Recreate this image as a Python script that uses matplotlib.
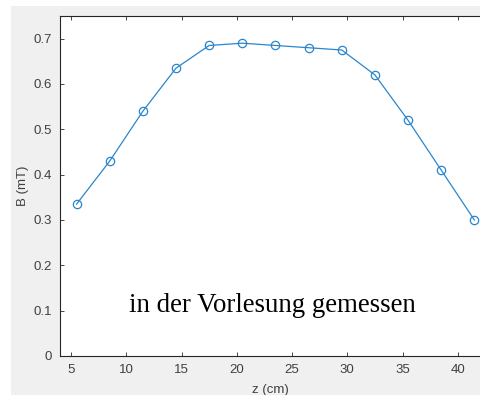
import matplotlib
matplotlib.use("Agg")
import matplotlib.pyplot as plt
from matplotlib.patches import Rectangle

# measured field along the axis
z_cm = [5.5, 8.5, 11.5, 14.5, 17.5, 20.5, 23.5, 26.5, 29.5, 32.5, 35.5, 38.5, 41.5]
b_mT = [0.335, 0.43, 0.54, 0.635, 0.685, 0.69, 0.685, 0.68, 0.675, 0.62, 0.52, 0.41, 0.30]
x_ticks = [5, 10, 15, 20, 25, 30, 35, 40]
y_ticks = [0, 0.1, 0.2, 0.3, 0.4, 0.5, 0.6, 0.7]

W, H = 481, 395
fig = plt.figure(figsize=(W / 100, H / 100), dpi=100, facecolor="white")

# grey matlab figure background
fig.patches.append(Rectangle((11 / W, 0), 1, 1 - 6 / H, transform=fig.transFigure,
                             facecolor="#f0f0f0", edgecolor="none", zorder=-1))

ax = fig.add_axes([60 / W, 1 - 356 / H, 421 / W + 0.01, (356 - 16) / H])
line_col = "#2a86cc"
ax.plot(z_cm, b_mT, color=line_col, lw=0.9, marker="o", ms=6,
        mfc="none", mec=line_col, mew=0.9)

ax.set_xlim(4.0, 42.1 + 0.01 * W / 11.05)
ax.set_ylim(0, 0.75)
ax.set_xticks(x_ticks)
ax.set_yticks(y_ticks)
ax.set_yticklabels(["0", "0.1", "0.2", "0.3", "0.4", "0.5", "0.6", "0.7"])

tick_font = {"family": "Liberation Sans", "size": 9.5, "color": "#404040"}
for lab in ax.get_xticklabels() + ax.get_yticklabels():
    lab.set_fontfamily("Liberation Sans")
    lab.set_fontsize(9.5)
    lab.set_color("#404040")
ax.tick_params(direction="in", length=3, width=0.6, color="#262626",
               top=True, right=True, pad=6)
for s in ax.spines.values():
    s.set_color("#262626")
    s.set_linewidth(0.8)

ax.set_xlabel("z (cm)", fontdict=tick_font, labelpad=2)
ax.set_ylabel("B (mT)", fontdict=tick_font, labelpad=3)
ax.xaxis.set_label_coords(0.5 - 0.005, -0.082)

ax.text(23.2, 0.112, "in der Vorlesung gemessen", family="Liberation Serif",
        fontsize=19.4, ha="center", va="center", color="black")

fig.savefig("out.png", dpi=100)
